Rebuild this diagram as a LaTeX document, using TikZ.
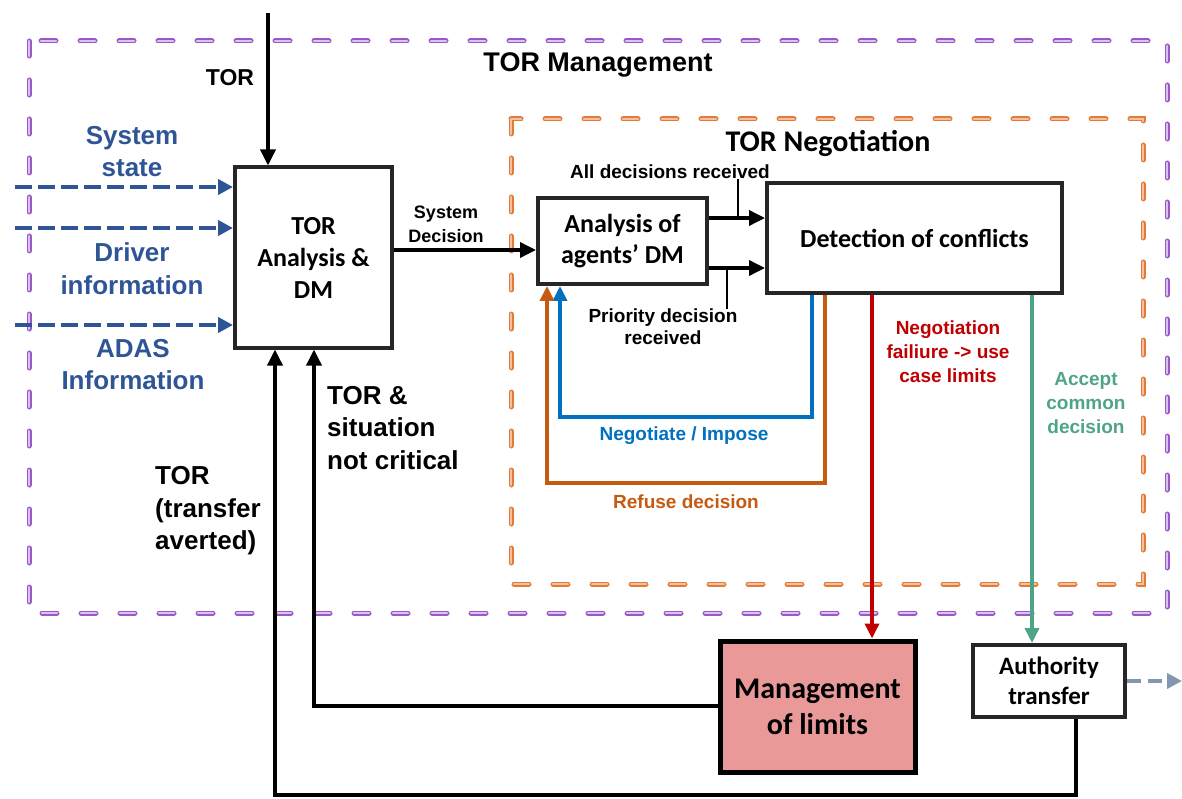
\documentclass[tikz,border=0pt]{standalone}
\usepackage{fontspec}
\setmainfont{Liberation Sans}
\newfontfamily\calib{Carlito}
\usetikzlibrary{arrows.meta}
\definecolor{tblue}{HTML}{2F5597}
\definecolor{nblue}{HTML}{0070C0}
\definecolor{orng}{HTML}{C55A11}
\definecolor{rred}{HTML}{C00000}
\definecolor{grn}{HTML}{4EA585}
\definecolor{pdraw}{HTML}{9A57C9}
\definecolor{pfill}{HTML}{D8C4EC}
\definecolor{odraw}{HTML}{E07B39}
\definecolor{ofill}{HTML}{F6C0A0}
\definecolor{mgfill}{HTML}{EA9999}
\definecolor{gryc}{HTML}{8497B0}
\definecolor{boxc}{HTML}{262626}
\tikzset{
  lbl/.style={inner sep=0pt, align=center, font=\bfseries\fontsize{19}{23.5}\selectfont},
  biglbl/.style={inner sep=0pt, align=center, font=\bfseries\fontsize{26}{32.5}\selectfont},
  box/.style={draw=boxc, line width=4pt, fill=white, align=center, inner sep=0pt,
    font=\calib\bfseries\fontsize{26}{32}\selectfont},
  conn/.style={line width=3.5pt},
  tip/.style={-{Triangle[length=16pt,width=15pt]}},
  ctip/.style={-{Triangle[length=15pt,width=14pt]}},
  tick/.style={line width=1.8pt},
  pdash/.style={draw=pdraw, line width=1.1pt, double=pfill, double distance=2.8pt,
    line cap=round, dash pattern=on 15pt off 24pt},
  odash/.style={draw=odraw, line width=1.1pt, double=ofill, double distance=2.8pt,
    line cap=round, dash pattern=on 15pt off 24pt},
  bdash/.style={draw=tblue, line width=4pt, dash pattern=on 17pt off 6pt,
    -{Triangle[length=15pt,width=15pt]}},
  gdash/.style={draw=gryc, line width=4pt, dash pattern=on 14pt off 7pt,
    -{Triangle[length=15pt,width=15pt]}},
}
\begin{document}
\begin{tikzpicture}[x=1pt,y=-1pt]
\useasboundingbox (0,0) rectangle (1182,799);
% container boxes
\draw[pdash] (29,41) rectangle (1167,613);
\draw[odash] (511,119) rectangle (1143,584);
% titles
\node[inner sep=0pt, font=\bfseries\fontsize{27}{32}\selectfont] (ltm) at (598,65) {TOR Management};
\node[inner sep=0pt, font=\calib\bfseries\fontsize{30}{36}\selectfont] (ltn) at (828,143) {TOR Negotiation};
% boxes
\node[box, minimum width=157pt, minimum height=180pt] (tor) at (313.5,257.5) {TOR\\Analysis \&\\DM};
\node[box, minimum width=169pt, minimum height=86pt, font=\calib\bfseries\fontsize{26}{31}\selectfont] (anl) at (622.5,241) {Analysis of\\agents’ DM};
\node[box, minimum width=295pt, minimum height=110pt] (det) at (914.5,238) {Detection of conflicts};
\node[box, draw=black, fill=mgfill, line width=5pt, minimum width=195pt, minimum height=131pt,
  font=\calib\bfseries\fontsize{30}{36}\selectfont] (mgmt) at (817.5,706.5) {Management\\of limits};
\node[box, minimum width=152pt, minimum height=72pt,
  font=\calib\bfseries\fontsize{25}{30}\selectfont] (auth) at (1049,681) {Authority\\transfer};
% labels
\node[inner sep=0pt, font=\bfseries\fontsize{23}{28}\selectfont] (ltor) at (230,78) {TOR};
\node[biglbl, text=tblue] (lss) at (132,151.5) {System\\state};
\node[biglbl, text=tblue] (ldi) at (132,268.5) {Driver\\information};
\node[biglbl, text=tblue] (lad) at (133,364.5) {ADAS\\Information};
\node[biglbl, align=left, anchor=west] (lnc) at (327,428) {TOR \&\\situation\\not critical};
\node[biglbl, align=left, anchor=west] (lav) at (155,511) {TOR\\(transfer\\averted)};
\node[lbl, font=\bfseries\fontsize{18}{24}\selectfont] (lsd) at (446,224) {System\\Decision};
\node[lbl] (lall) at (670,172) {All decisions received};
\node[lbl, font=\bfseries\fontsize{19}{22}\selectfont] (lpri) at (663,327) {Priority decision\\received};
\node[lbl, text=nblue] (lneg) at (684,436) {Negotiate / Impose};
\node[lbl, text=orng] (lref) at (686,502) {Refuse decision};
\node[lbl, text=rred, font=\bfseries\fontsize{19}{24}\selectfont] (lfail) at (948,352) {Negotiation\\failiure -> use\\case limits};
\node[lbl, text=grn, font=\bfseries\fontsize{19}{24}\selectfont] (lacc) at (1086,403) {Accept\\common\\decision};
% helper coordinates
\coordinate (tin) at (268,13);
\coordinate (s1) at (15,187);
\coordinate (s2) at (15,228);
\coordinate (s3) at (15,325);
\coordinate (y250) at (0,250);
\coordinate (a1) at (0,218);
\coordinate (a2) at (0,268);
\coordinate (t1) at (738,218);
\coordinate (t2) at (727,268);
\coordinate (b1) at (812,417);
\coordinate (b2) at (560,417);
\coordinate (o1) at (825,483);
\coordinate (o2) at (547,483);
\coordinate (r1) at (872,0);
\coordinate (g1) at (1032,0);
\coordinate (f1) at (314,706);
\coordinate (f2) at (1076,795);
\coordinate (f3) at (275,795);
\coordinate (gend) at (1182,681);
% connectors
\draw[conn,tip] (tin) -- (tin |- tor.north);
\draw[bdash] (s1) -- (s1 -| tor.west);
\draw[bdash] (s2) -- (s2 -| tor.west);
\draw[bdash] (s3) -- (s3 -| tor.west);
\draw[conn,tip] (tor.east |- y250) -- (anl.west |- y250);
\draw[conn,tip] (anl.east |- a1) -- (det.west |- a1);
\draw[conn,tip] (anl.east |- a2) -- (det.west |- a2);
\draw[tick] (t1) -- (t1 |- lall.south);
\draw[tick] (t2) -- (t2 |- lpri.north);
\draw[conn,draw=nblue,ctip] (det.south -| b1) -- (b1) -- (b2) -- (anl.south -| b2);
\draw[conn,draw=orng,ctip] (det.south -| o1) -- (o1) -- (o2) -- (anl.south -| o2);
\draw[conn,draw=rred,ctip] (det.south -| r1) -- (mgmt.north -| r1);
\draw[conn,draw=grn,ctip] (det.south -| g1) -- (auth.north -| g1);
\draw[conn,tip] (mgmt.west |- f1) -- (f1) -- (tor.south -| f1);
\draw[conn,tip] (auth.south -| f2) -- (f2) -- (f3) -- (tor.south -| f3);
\draw[gdash] (auth.east) -- (gend);
\end{tikzpicture}
\end{document}
